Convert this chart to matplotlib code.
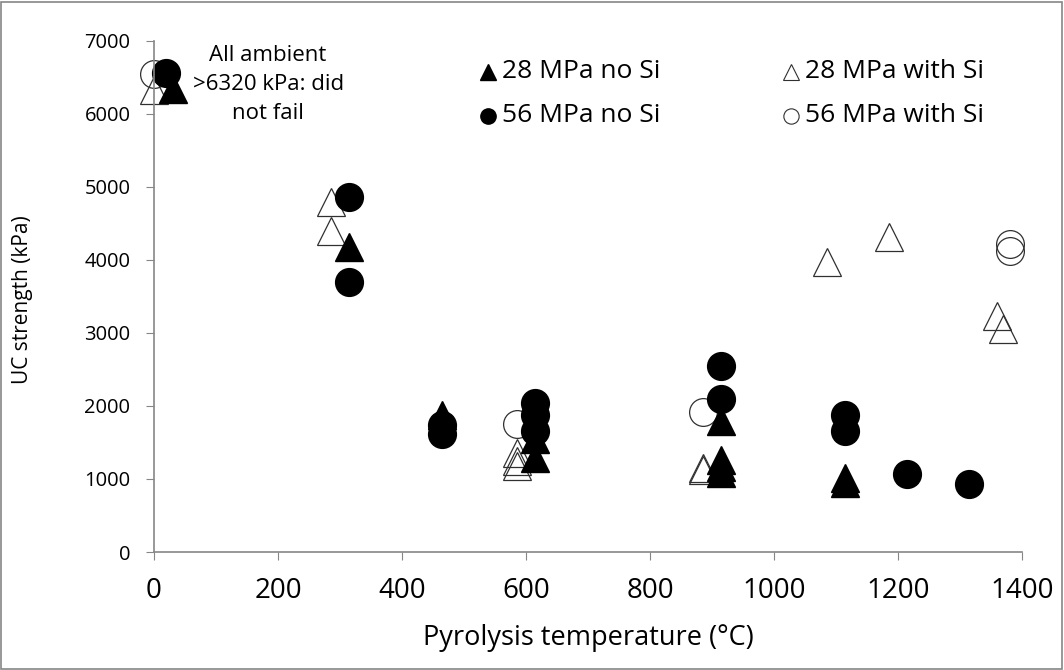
import matplotlib
matplotlib.use("Agg")
import matplotlib.pyplot as plt
from matplotlib.lines import Line2D
from matplotlib.patches import Rectangle

# 28 MPa, no Si (filled triangles)
t28_no_si_x = [30, 315, 465, 615, 615, 915, 915, 915, 915, 1115, 1115]
t28_no_si_y = [6340, 4180, 1880, 1550, 1290, 1800, 1260, 1170, 1080, 1020, 940]

# 56 MPa, no Si (filled circles)
c56_no_si_x = [20, 315, 315, 465, 465, 615, 615, 615, 915, 915, 1115, 1115, 1215, 1315]
c56_no_si_y = [6560, 4860, 3700, 1740, 1620, 2040, 1880, 1660, 2550, 2090, 1870, 1660, 1070, 930]

# 28 MPa with Si (open triangles)
t28_si_x = [0, 285, 285, 585, 585, 585, 885, 885, 1085, 1185, 1360, 1370]
t28_si_y = [6330, 4800, 4400, 1350, 1250, 1180, 1150, 1120, 3970, 4320, 3230, 3050]

# 56 MPa with Si (open circles)
c56_si_x = [0, 585, 885, 1380, 1380]
c56_si_y = [6550, 1760, 1920, 4220, 4120]

x_ticks = [0, 200, 400, 600, 800, 1000, 1200, 1400]
y_ticks = [0, 1000, 2000, 3000, 4000, 5000, 6000, 7000]

plt.rcParams['font.family'] = ['Open Sans', 'DejaVu Sans']

W, H = 1064, 670
fig = plt.figure(figsize=(W / 100, H / 100), dpi=100)
ax = fig.add_axes([154 / W, 1 - 552 / H, 868 / W, 511 / H])

ms = 20
open_style = dict(linestyle='none', markersize=ms, markerfacecolor='none',
                  markeredgecolor='#303030', markeredgewidth=0.9, clip_on=False)
ax.plot(t28_si_x, t28_si_y, marker='^', **open_style)
ax.plot(c56_si_x, c56_si_y, marker='o', **open_style)
ax.plot(t28_no_si_x, t28_no_si_y, linestyle='none', marker='^', markersize=ms,
        color='black', clip_on=False)
ax.plot(c56_no_si_x, c56_no_si_y, linestyle='none', marker='o', markersize=ms,
        color='black', clip_on=False)

ax.set_xlim(0, 1400)
ax.set_ylim(0, 7000)
ax.set_xticks(x_ticks)
ax.set_yticks(y_ticks)
ax.tick_params(axis='x', labelsize=20, length=6, color='#868686', direction='out', pad=12)
ax.tick_params(axis='y', labelsize=14.5, length=6, color='#868686', direction='out', pad=11)

for side in ['top', 'right']:
    ax.spines[side].set_visible(False)
for side in ['left', 'bottom']:
    ax.spines[side].set_color('#868686')
    ax.spines[side].set_linewidth(1.2)

ax.set_xlabel('Pyrolysis temperature (°C)', fontsize=19.5, va='center')
ax.xaxis.set_label_coords(0.5, -0.168)
ax.set_ylabel('UC strength (kPa)', fontsize=15, va='center')
ax.yaxis.set_label_coords(-0.152, 0.493)

ax.text(184, 6400, 'All ambient\n>6320 kPa: did\nnot fail', fontsize=16,
        ha='center', va='center', linespacing=1.5)

# legend, laid out by hand in figure pixels
legend_marks = ['^', 'o', '^', 'o']
legend_filled = [True, True, False, False]
legend_labels = ['28 MPa no Si', '56 MPa no Si', '28 MPa with Si', '56 MPa with Si']
legend_pos = [(488, 72), (488, 116), (791, 72), (791, 116)]
for mk, filled, lab, (px, py) in zip(legend_marks, legend_filled, legend_labels, legend_pos):
    fx, fy = px / W, 1 - py / H
    if filled:
        style = dict(color='black')
    else:
        style = dict(markerfacecolor='none', markeredgecolor='#303030', markeredgewidth=0.8)
    fig.add_artist(Line2D([fx], [fy], transform=fig.transFigure, linestyle='none',
                          marker=mk, markersize=11, **style))
    fig.text(fx + 14 / W, fy, lab, fontsize=19, ha='left', va='center')

fig.patches.append(Rectangle((0.001, 0.0015), 0.997, 0.996, transform=fig.transFigure,
                             fill=False, edgecolor='#868686', linewidth=1.2))

fig.savefig('out.png', dpi=100)
